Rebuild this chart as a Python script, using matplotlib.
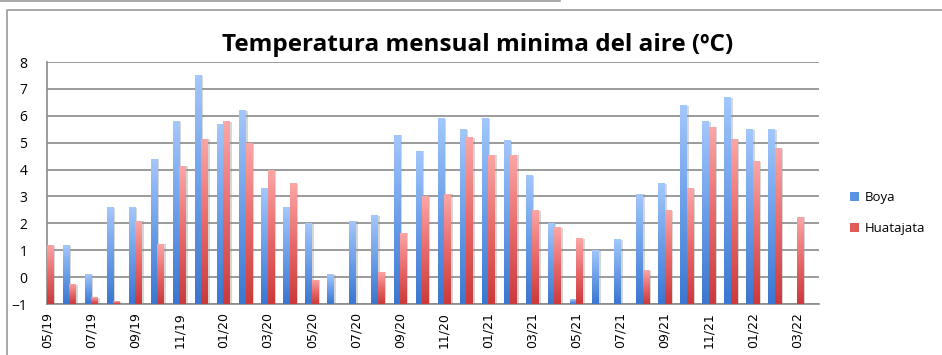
import numpy as np
import matplotlib
matplotlib.use("Agg")
import matplotlib.pyplot as plt
from matplotlib.colors import LinearSegmentedColormap
from matplotlib import patheffects
from matplotlib.lines import Line2D
from matplotlib.patches import Rectangle

nan = np.nan

months = ["05/19", "06/19", "07/19", "08/19", "09/19", "10/19", "11/19", "12/19",
          "01/20", "02/20", "03/20", "04/20", "05/20", "06/20", "07/20", "08/20",
          "09/20", "10/20", "11/20", "12/20", "01/21", "02/21", "03/21", "04/21",
          "05/21", "06/21", "07/21", "08/21", "09/21", "10/21", "11/21", "12/21",
          "01/22", "02/22", "03/22", "04/22"]

boya = [nan, 1.2, 0.1, 2.6, 2.6, 4.4, 5.8, 7.5, 5.7, 6.2, 3.3, 2.6,
        2.0, 0.1, 2.1, 2.3, 5.3, 4.7, 5.9, 5.5, 5.9, 5.1, 3.8, 2.0,
        -0.82, 1.0, 1.4, 3.1, 3.5, 6.4, 5.8, 6.7, 5.5, 5.5, nan, nan]

huatajata = [1.2, -0.25, -0.75, -0.9, 2.1, 1.25, 4.15, 5.15, 5.8, 5.0, 4.0, 3.5,
             -0.1, nan, nan, 0.2, 1.65, 3.0, 3.1, 5.2, 4.55, 4.55, 2.5, 1.85,
             1.45, nan, nan, 0.25, 2.5, 3.3, 5.6, 5.15, 4.3, 4.8, 2.25, nan]

series = ["Boya", "Huatajata"]

blue_cmap = LinearSegmentedColormap.from_list("blue_grad", ["#3b77d0", "#6c9ee8", "#a2c7fb"])
red_cmap = LinearSegmentedColormap.from_list("red_grad", ["#cc3a3a", "#e86a6a", "#fba6a6"])

W, H = 942, 355
fig = plt.figure(figsize=(W / 100, H / 100), dpi=100)
ax = fig.add_axes([47 / W, 1 - 304 / H, (819 - 47) / W, (304 - 62) / H])

base = -1
width = 0.29
x = np.arange(len(months))
grad = np.linspace(0, 1, 64).reshape(-1, 1)
shadow = [patheffects.SimplePatchShadow(offset=(1.5, -0.5), shadow_rgbFace="0.55", alpha=0.35),
          patheffects.Normal()]


def gradient_bars(xpos, vals, cmap):
    heights = np.array(vals, dtype=float) - base
    bars = ax.bar(xpos, heights, width=width, bottom=base, align="edge",
                  facecolor="none", edgecolor="none", zorder=3)
    for b, h in zip(bars, heights):
        if np.isnan(h) or h <= 0:
            continue
        b.set_path_effects(shadow)
        x0, y0 = b.get_x(), b.get_y()
        im = ax.imshow(grad, cmap=cmap, origin="lower", aspect="auto",
                       extent=(x0, x0 + b.get_width(), y0, y0 + h),
                       zorder=4, interpolation="bilinear")
        im.set_clip_path(b)
    return bars


gradient_bars(x - width, boya, blue_cmap)
gradient_bars(x, huatajata, red_cmap)

ax.set_xlim(0, len(months) - 1)
ax.set_ylim(-1, 8)
ax.set_yticks(range(-1, 9))
ax.yaxis.grid(True, color="#8a8a8a", linewidth=1.2, zorder=1)
ax.set_axisbelow(True)
for s in ["top", "right"]:
    ax.spines[s].set_visible(False)
for s in ["left", "bottom"]:
    ax.spines[s].set_color("#8a8a8a")
    ax.spines[s].set_linewidth(1.2)

ax.set_xticks(x[::2])
ax.set_xticklabels(months[::2], rotation=90, fontsize=9,
                   family="DejaVu Sans", va="top", ha="center")
ax.tick_params(axis="x", length=0, pad=6)
ax.tick_params(axis="y", length=0, pad=14, labelsize=10)
for t in ax.get_yticklabels():
    t.set_family("Open Sans")

fig.text(478 / W, 1 - 45 / H, "Temperatura mensual minima del aire (ºC)",
         ha="center", va="center", fontsize=17.5, fontweight="bold",
         family="Open Sans")

handles = [Rectangle((0, 0), 1, 1, facecolor="#5a93e2"),
           Rectangle((0, 0), 1, 1, facecolor="#e05a5a")]
fig.legend(handles, series, loc="center left", bbox_to_anchor=(838 / W, 1 - 213 / H),
           frameon=False, handlelength=0.7, handleheight=0.7, handletextpad=0.45,
           labelspacing=1.35, prop={"family": "Open Sans", "size": 9.5})

# outer frame
fig.add_artist(Line2D([7 / W, 7 / W, 1], [0, 1 - 10 / H, 1 - 10 / H],
                      color="#9a9a9a", linewidth=1.2))
fig.add_artist(Line2D([0, 560 / W], [1 - 0.8 / H, 1 - 0.8 / H],
                      color="#9a9a9a", linewidth=1.2))

fig.savefig("out.png", dpi=100)
